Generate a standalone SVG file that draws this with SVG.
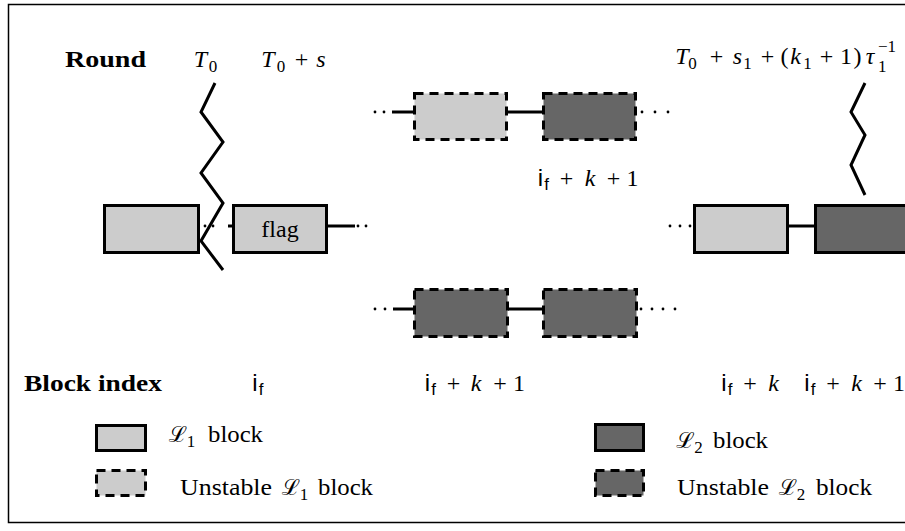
<svg xmlns="http://www.w3.org/2000/svg" width="905" height="531" viewBox="0 0 905 531">
<style>
.t{font-family:"Liberation Serif","DejaVu Serif",serif;font-size:24px;fill:#000}
.b{font-weight:bold}
.it{font-style:italic}
.sub{font-size:17px}
.sf{font-family:"Liberation Sans","DejaVu Sans",sans-serif}
.cal{font-family:"DejaVu Serif","Noto Sans",serif;font-size:22px}
.m{text-anchor:middle}
.l1{fill:#cccccc;stroke:#000;stroke-width:3}
.l2{fill:#666666;stroke:#000;stroke-width:3}
.u{stroke-dasharray:9 6}
.ln{stroke:#000;stroke-width:3;fill:none}
.dot{fill:#000}
</style>
<rect x="8.5" y="4.5" width="1000" height="518" fill="#fff" stroke="#000" stroke-width="1.5"/>

<g id="labels-round">
<text class="t b" x="65" y="67" textLength="81" lengthAdjust="spacingAndGlyphs">Round</text>
<text class="t it m" x="200.5" y="67">T</text><text class="t sub m" x="213" y="72">0</text>
<text class="t it m" x="268" y="67">T</text><text class="t sub m" x="281" y="72">0</text>
<text class="t m" x="301.5" y="67">+</text><text class="t it m" x="321" y="67">s</text>
<g id="label-right-round">
<text class="t it m" x="682" y="64">T</text><text class="t sub m" x="692.5" y="69">0</text>
<text class="t m" x="716.5" y="64">+</text>
<text class="t it m" x="737.5" y="64">s</text><text class="t sub m" x="747.5" y="69">1</text>
<text class="t m" x="767.5" y="64">+</text>
<text class="t m" x="784.5" y="64">(</text>
<text class="t it m" x="795.5" y="64">k</text><text class="t sub m" x="807.5" y="69">1</text>
<text class="t m" x="826.5" y="64">+</text>
<text class="t m" x="846" y="64">1</text>
<text class="t m" x="857.5" y="64">)</text>
<text class="t it m" x="870" y="64">τ</text>
<text class="t sub" x="878" y="72">1</text>
<text class="t sub" x="878" y="52">−1</text>
</g>
</g>

<g id="connectors">
<polyline class="ln" points="215,83 201,112 223,142 201,173 223,203 201,241 223,270"/>
<polyline class="ln" points="865,83 851,112 865,135 851,165 865,195"/>
<line class="ln" x1="228" y1="226" x2="233" y2="226"/>
<line class="ln" x1="328" y1="226" x2="355" y2="226"/>
<line class="ln" x1="392" y1="112" x2="414" y2="112"/>
<line class="ln" x1="507" y1="112" x2="543" y2="112"/>
<line class="ln" x1="393" y1="309" x2="414" y2="309"/>
<line class="ln" x1="508" y1="309" x2="543" y2="309"/>
<line class="ln" x1="788" y1="226" x2="815" y2="226"/>
<circle class="dot" cx="205" cy="226" r="1.4"/><circle class="dot" cx="213" cy="226" r="1.4"/>
<circle class="dot" cx="358" cy="226" r="1.4"/><circle class="dot" cx="366" cy="226" r="1.4"/>
<circle class="dot" cx="375" cy="112" r="1.4"/><circle class="dot" cx="384" cy="112" r="1.4"/>
<circle class="dot" cx="642" cy="112" r="1.4"/><circle class="dot" cx="655" cy="112" r="1.4"/><circle class="dot" cx="668" cy="112" r="1.4"/>
<circle class="dot" cx="375" cy="309" r="1.4"/><circle class="dot" cx="385" cy="309" r="1.4"/>
<circle class="dot" cx="641" cy="309" r="1.4"/><circle class="dot" cx="652" cy="309" r="1.4"/><circle class="dot" cx="663" cy="309" r="1.4"/><circle class="dot" cx="675" cy="309" r="1.4"/>
<circle class="dot" cx="670" cy="226" r="1.4"/><circle class="dot" cx="680" cy="226" r="1.4"/><circle class="dot" cx="690" cy="226" r="1.4"/>
</g>

<g id="block-left"><rect class="l1" x="104.5" y="205.5" width="94" height="47"/></g>
<g id="block-flag"><rect class="l1" x="233.5" y="205.5" width="93" height="47"/>
<text class="t m" x="280" y="237">flag</text></g>
<g id="block-top-1"><rect class="l1 u" x="414.5" y="93.5" width="92" height="46"/></g>
<g id="block-top-2"><rect class="l2 u" x="543.5" y="93.5" width="92" height="46"/></g>
<g id="block-bottom-1"><rect class="l2 u" x="414.5" y="289.5" width="93" height="47"/></g>
<g id="block-bottom-2"><rect class="l2 u" x="543.5" y="289.5" width="93" height="47"/></g>
<g id="block-right-1"><rect class="l1" x="694.5" y="205.5" width="93" height="47"/></g>
<g id="block-right-2"><rect class="l2" x="815.5" y="205.5" width="200" height="47"/></g>

<g id="label-top-index">
<text class="t sf m" x="540.5" y="186">i</text><text class="t sf sub m" x="546.5" y="190">f</text>
<text class="t m" x="566.5" y="186">+</text><text class="t it m" x="590" y="186">k</text>
<text class="t m" x="613.5" y="186">+</text><text class="t m" x="632.5" y="186">1</text>
</g>

<g id="labels-block-index">
<text class="t b" x="24" y="391" textLength="138" lengthAdjust="spacingAndGlyphs">Block index</text>
<text class="t sf m" x="255" y="391">i</text><text class="t sf sub m" x="261" y="395">f</text>
<text class="t sf m" x="427.5" y="391">i</text><text class="t sf sub m" x="433.5" y="395">f</text>
<text class="t m" x="453.5" y="391">+</text><text class="t it m" x="476" y="391">k</text>
<text class="t m" x="500" y="391">+</text><text class="t m" x="519" y="391">1</text>
<text class="t sf m" x="724" y="391">i</text><text class="t sf sub m" x="730" y="395">f</text>
<text class="t m" x="750" y="391">+</text><text class="t it m" x="773.5" y="391">k</text>
<text class="t sf m" x="807" y="391">i</text><text class="t sf sub m" x="813" y="395">f</text>
<text class="t m" x="833" y="391">+</text><text class="t it m" x="856.5" y="391">k</text>
<text class="t m" x="880" y="391">+</text><text class="t m" x="899" y="391">1</text>
</g>

<g id="legend-l1">
<rect class="l1" x="96.5" y="425.5" width="49" height="25"/>
<text class="t cal it m" x="178" y="442">ℒ</text><text class="t sub m" x="191" y="447">1</text>
<text class="t" x="208" y="442" textLength="55" lengthAdjust="spacingAndGlyphs">block</text>
</g>
<g id="legend-unstable-l1">
<rect class="l1 u" x="96.5" y="470.5" width="49" height="25"/>
<text class="t" x="180" y="495" textLength="92" lengthAdjust="spacingAndGlyphs">Unstable</text>
<text class="t cal it m" x="291" y="495">ℒ</text><text class="t sub m" x="304" y="500">1</text>
<text class="t" x="318" y="495" textLength="55" lengthAdjust="spacingAndGlyphs">block</text>
</g>
<g id="legend-l2">
<rect class="l2" x="595.5" y="424.5" width="48" height="26"/>
<text class="t cal it m" x="685.5" y="448">ℒ</text><text class="t sub m" x="698.5" y="453">2</text>
<text class="t" x="713" y="448" textLength="55" lengthAdjust="spacingAndGlyphs">block</text>
</g>
<g id="legend-unstable-l2">
<rect class="l2 u" x="595.5" y="470.5" width="48" height="25"/>
<text class="t" x="677" y="495" textLength="92" lengthAdjust="spacingAndGlyphs">Unstable</text>
<text class="t cal it m" x="788" y="495">ℒ</text><text class="t sub m" x="801" y="500">2</text>
<text class="t" x="816" y="495" textLength="56" lengthAdjust="spacingAndGlyphs">block</text>
</g>
</svg>
